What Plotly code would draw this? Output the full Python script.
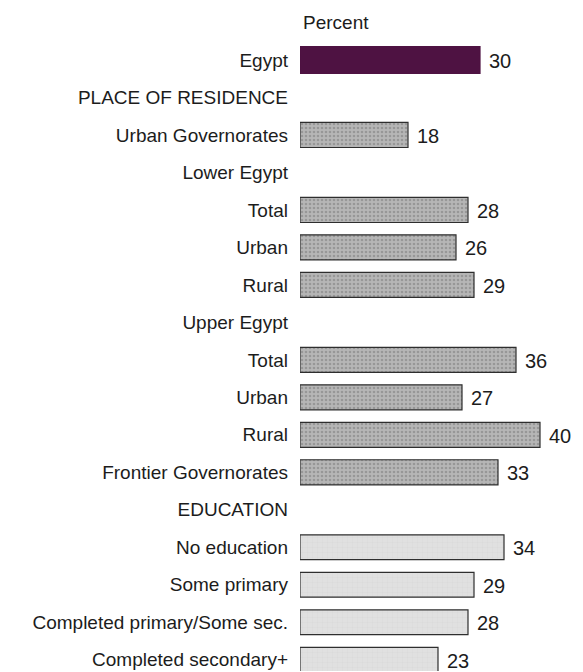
import plotly.graph_objects as go

labels = ["Egypt", "PLACE OF RESIDENCE", "Urban Governorates", "Lower Egypt", "Total", "Urban", "Rural",
          "Upper Egypt", "Total", "Urban", "Rural", "Frontier Governorates", "EDUCATION",
          "No education", "Some primary", "Completed primary/Some sec.", "Completed secondary+"]
values = [30, None, 18, None, 28, 26, 29, None, 36, 27, 40, 33, None, 34, 29, 28, 23]
groups = ["total", None, "res", None, "res", "res", "res", None, "res", "res", "res", "res", None,
          "edu", "edu", "edu", "edu"]

rows = list(range(len(labels)))
FONT = "Liberation Sans, Arial, sans-serif"
TXT = "#1c1c1c"

fig = go.Figure()

styles = {
    "total": dict(color="#4e1242", width=0.72, line="#4e1242",
                  pattern=None),
    "res": dict(color="#acacac", width=0.67, line="#2e2e2e",
                pattern=dict(shape=".", fgcolor="#787878", bgcolor="#b6b6b6", size=4, solidity=0.35)),
    "edu": dict(color="#dcdcdc", width=0.66, line="#2e2e2e",
                pattern=dict(shape="+", fgcolor="#c6c6c6", bgcolor="#e0e0e0", size=5, solidity=0.12)),
}

for g in ["total", "res", "edu"]:
    ys = [r for r, gg in zip(rows, groups) if gg == g]
    xs = [values[r] for r in ys]
    st = styles[g]
    marker = dict(color=st["color"], line=dict(color=st["line"], width=1.2))
    if st["pattern"]:
        marker["pattern"] = st["pattern"]
    fig.add_trace(go.Bar(
        x=xs, y=ys, orientation="h", width=st["width"], marker=marker,
        showlegend=False, hoverinfo="skip",
    ))

for r, v in zip(rows, values):
    if v is None:
        continue
    fig.add_annotation(x=v, y=r, xref="x", yref="y", text=str(v), showarrow=False,
                       xanchor="left", xshift=7, yshift=-1,
                       font=dict(size=20, color=TXT, family=FONT))

fig.add_annotation(x=0, y=1, xref="x", yref="paper", text="Percent", showarrow=False,
                   xanchor="left", yanchor="middle", xshift=1, yshift=8,
                   font=dict(size=19, color=TXT, family=FONT))

fig.update_layout(
    width=575, height=664,
    margin=dict(l=292, r=13, t=22, b=1, autoexpand=False),
    paper_bgcolor="white", plot_bgcolor="white",
    font=dict(family=FONT, size=19, color=TXT),
    xaxis=dict(range=[0, 45], visible=False),
    yaxis=dict(range=[16.3, -0.8], tickvals=rows, ticktext=labels, showgrid=False,
               zeroline=False, showline=False, ticks="", ticklabelstandoff=11, automargin=False),
)

fig.write_html("out.html")
